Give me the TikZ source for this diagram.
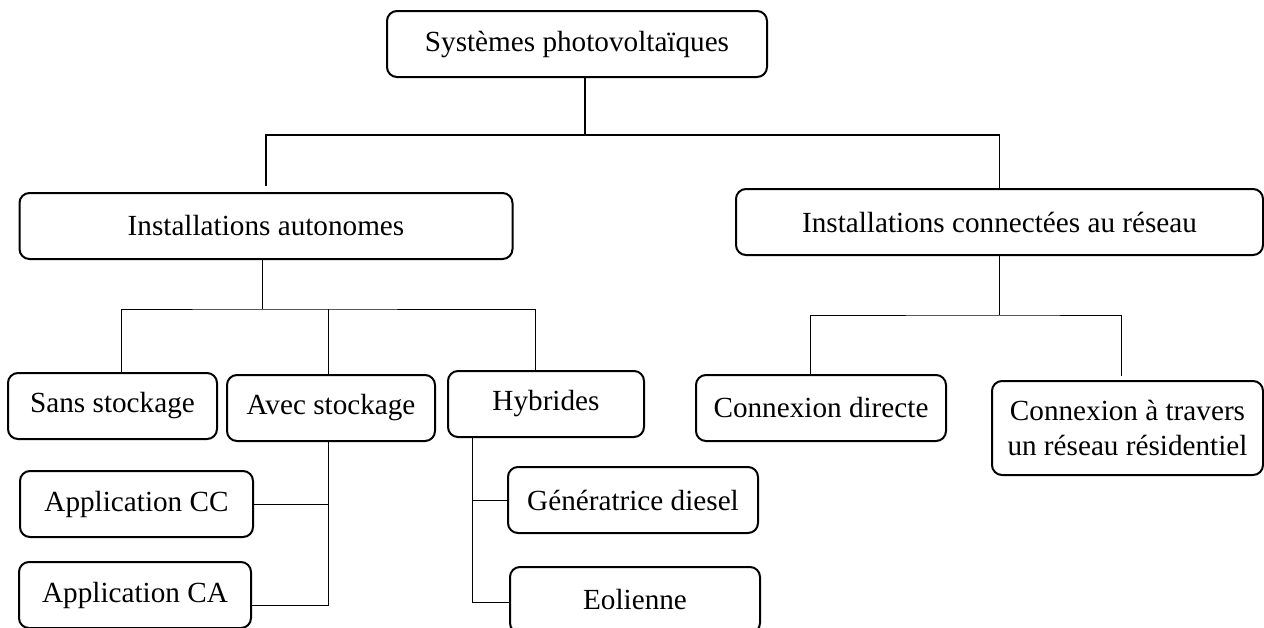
\documentclass[tikz,border=0pt]{standalone}
\usepackage{fontspec}
\setmainfont{Liberation Serif}
\usepackage{tikz}
\usetikzlibrary{calc, positioning}

\begin{document}
\begin{tikzpicture}[
  x=0.5pt, y=-0.5pt,
  box/.style={draw, line width=1pt, rounded corners=5pt, align=center,
              inner sep=2pt, font=\fontsize{14.6}{17.5}\selectfont},
  trunk/.style={line width=0.9pt},
  branch/.style={line width=0.5pt}
]
  \useasboundingbox (0,0) rectangle (1264,627);

  % level 0 and 1
  \node[box, minimum width=190pt, minimum height=33pt] (sys)    at (577,44)    {Systèmes photovoltaïques};
  \node[box, minimum width=246.5pt, minimum height=33pt] (auto)  at (266,226)   {Installations autonomes};
  \node[box, minimum width=263.5pt, minimum height=33pt] (reseau) at (999.5,222) {Installations connectées au réseau};

  % level 2
  \node[box, minimum width=104.5pt, minimum height=33pt] (sans) at (112.5,406) {Sans stockage};
  \node[box, minimum width=104pt, minimum height=33pt]   (avec) at (331,408)   {Avec stockage};
  \node[box, minimum width=98pt, minimum height=33pt]    (hyb)  at (546,404)   {Hybrides};
  \node[box, minimum width=125pt, minimum height=33pt]   (directe) at (821,408) {Connexion directe};
  \node[box, minimum width=135.5pt, minimum height=47pt] (travers) at (1127.5,428)
       {Connexion à travers\\un réseau résidentiel};

  % level 3
  \node[box, minimum width=116.5pt, minimum height=33pt] (appcc)  at (136.5,504) {Application CC};
  \node[box, minimum width=116pt, minimum height=33pt]   (appca)  at (135,595)   {Application CA};
  \node[box, minimum width=125pt, minimum height=33pt]   (diesel) at (633,500)   {Génératrice diesel};
  \node[box, minimum width=125pt, minimum height=33pt]   (eol)    at (635,600)   {Eolienne};

  % connectors
  \draw[trunk] ([xshift=4pt]sys.south) -- ++(0,57) coordinate (j0);
  \draw[trunk] ([yshift=3pt]auto.north) |- (j0) -| (reseau.north);

  \draw[branch] ([xshift=-2pt]auto.south) -- ++(0,49) coordinate (j1);
  \draw[branch] ([xshift=4.25pt]sans.north) |- (j1) -| ([xshift=-5.5pt]hyb.north);
  \draw[branch] ([xshift=-1.5pt]avec.north) -- ([xshift=-1.5pt]avec.north |- j1);

  \draw[branch] (reseau.south) -- ++(0,59) coordinate (j2);
  \draw[branch] ([xshift=-5.5pt]directe.north) |- (j2) -| ([xshift=-3.25pt, yshift=2pt]travers.north);

  \coordinate (k1) at ([xshift=-1.5pt]avec.south);
  \draw[branch] (k1) |- ([yshift=-5pt]appca.east);
  \draw[branch] (appcc.east) -- (appcc.east -| k1);

  \coordinate (k2) at ([xshift=12.75pt]hyb.south west);
  \draw[branch] (k2) |- ([yshift=-1pt]eol.west);
  \draw[branch] (diesel.west) -- (diesel.west -| k2);
\end{tikzpicture}
\end{document}
